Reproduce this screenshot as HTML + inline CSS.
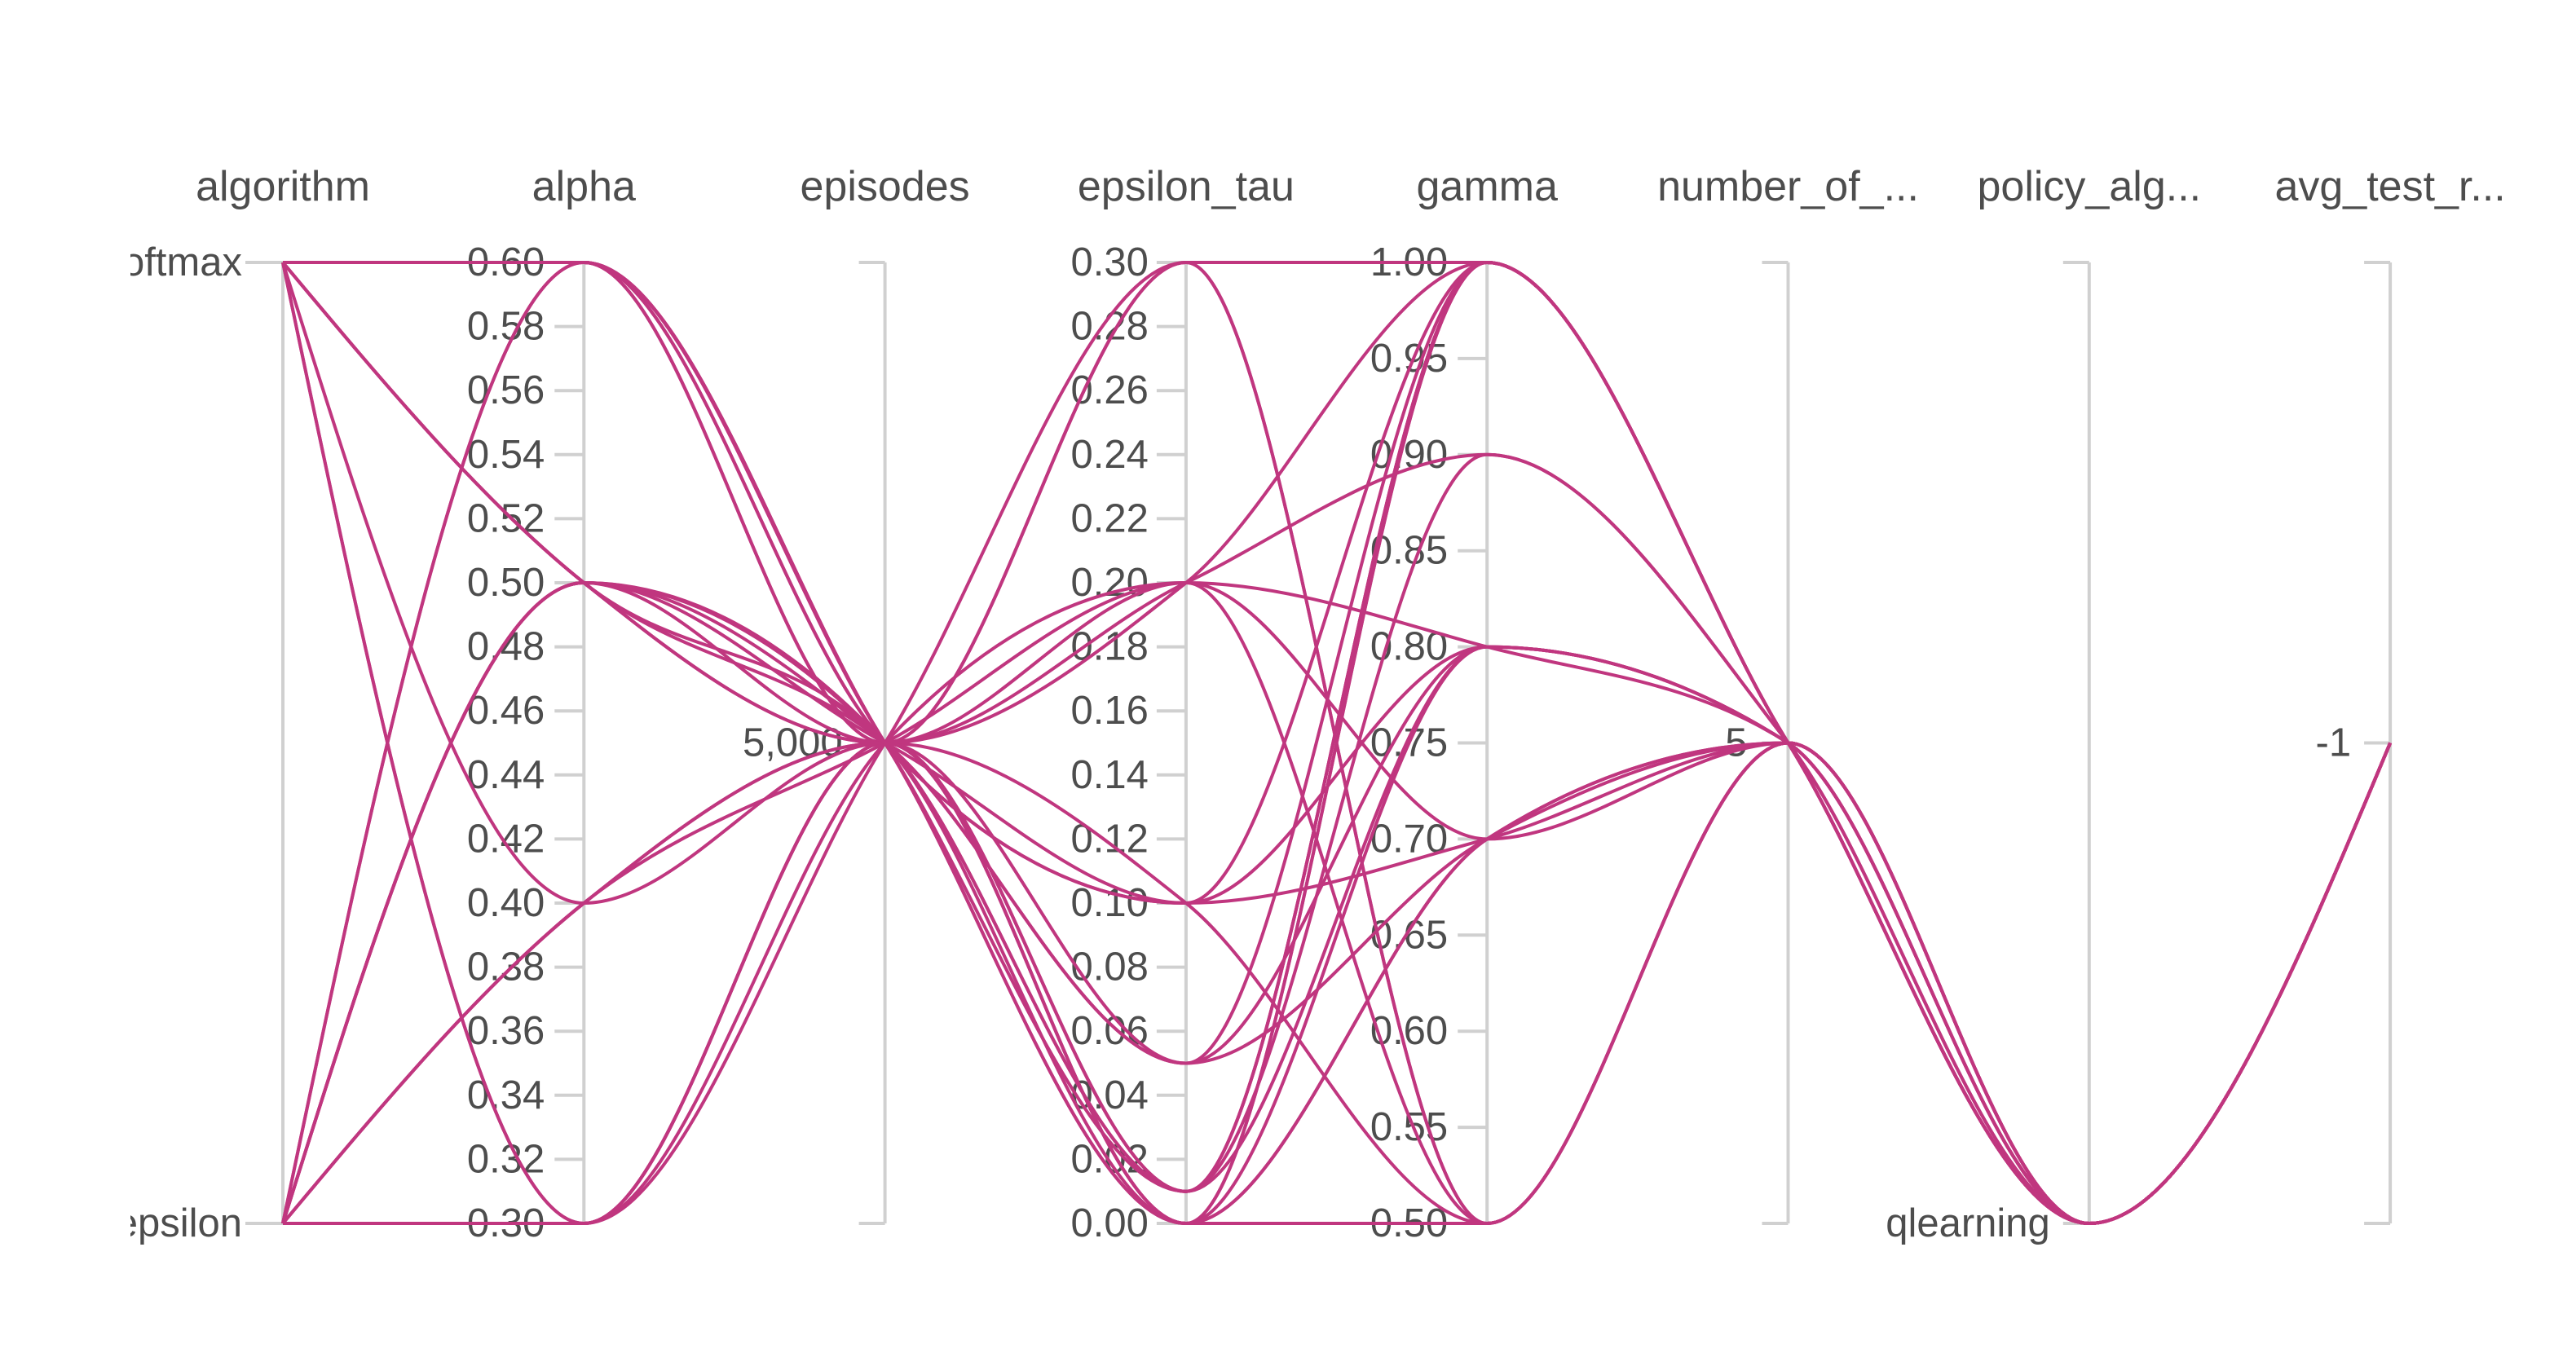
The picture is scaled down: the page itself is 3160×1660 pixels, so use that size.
<!DOCTYPE html>
<html><head><meta charset="utf-8"><style>
html,body{margin:0;padding:0;background:#fff;}
svg{display:block;}
text{font-family:"Liberation Sans",sans-serif;fill:#4d4d4d;}
</style></head><body>
<svg id="chart" width="3160" height="1660" viewBox="0 0 3160 1660" xmlns="http://www.w3.org/2000/svg">
<defs><clipPath id="clip"><rect x="160" y="0" width="3000" height="1660"/></clipPath></defs>
<g id="axes" clip-path="url(#clip)"></g>
<g id="lines"></g>
</svg>
<script>
const dimNames = ["algorithm","alpha","episodes","epsilon_tau","gamma","number_of_...","policy_alg...","avg_test_r..."];
const algorithmCats = ["softmax","epsilon"];
const alphaTicks = [0.30,0.32,0.34,0.36,0.38,0.40,0.42,0.44,0.46,0.48,0.50,0.52,0.54,0.56,0.58,0.60];
const tauTicks = [0,0.02,0.04,0.06,0.08,0.10,0.12,0.14,0.16,0.18,0.20,0.22,0.24,0.26,0.28,0.30];
const gammaTicks = [0.50,0.55,0.60,0.65,0.70,0.75,0.80,0.85,0.90,0.95,1.00];
const runAlgorithm = ["softmax","softmax","softmax","softmax","softmax","softmax","softmax","softmax","softmax","softmax","epsilon","epsilon","epsilon","epsilon","epsilon","epsilon","epsilon","epsilon","epsilon","epsilon","epsilon","epsilon","softmax","epsilon","softmax","epsilon"];
const runAlpha = [0.6,0.6,0.6,0.6,0.5,0.5,0.5,0.4,0.3,0.3,0.3,0.3,0.3,0.3,0.6,0.6,0.5,0.5,0.5,0.5,0.4,0.4,0.5,0.4,0.6,0.5];
const runEpisodes = [5000,5000,5000,5000,5000,5000,5000,5000,5000,5000,5000,5000,5000,5000,5000,5000,5000,5000,5000,5000,5000,5000,5000,5000,5000,5000];
const runTau = [0.3,0.2,0.1,0.0,0.2,0.05,0.01,0.0,0.01,0.1,0.3,0.0,0.05,0.2,0.01,0.0,0.2,0.1,0.05,0.0,0.01,0.2,0.3,0.0,0.1,0.01];
const runGamma = [1.0,0.9,0.8,1.0,0.7,1.0,1.0,0.7,0.9,0.5,0.5,0.5,0.8,0.5,1.0,0.8,1.0,0.7,0.7,1.0,0.8,0.8,0.5,0.7,1.0,1.0];
const runNumber = runAlpha.map(()=>5);
const runPolicy = runAlpha.map(()=>"qlearning");
const runAvg = runAlpha.map(()=>-1);

const NS="http://www.w3.org/2000/svg";
const X0=347, DX=369.3, TOP=322, BOT=1501, MID=(TOP+BOT)/2;
const ax=i=>X0+i*DX;
const lin=(v,a,b)=>BOT-(v-a)/(b-a)*(BOT-TOP);
const yAlg=v=>v==="softmax"?TOP:BOT;
const yAlpha=v=>lin(v,0.3,0.6);
const yTau=v=>lin(v,0,0.3);
const yGamma=v=>lin(v,0.5,1.0);
const yMid=()=>MID;
const yPolicy=()=>BOT;
const axesG=document.getElementById('axes');
const linesG=document.getElementById('lines');
function mk(tag,attrs,parent){const e=document.createElementNS(NS,tag);for(const k in attrs)e.setAttribute(k,attrs[k]);parent.appendChild(e);return e;}

dimNames.forEach((n,i)=>{
  const t=mk('text',{x:ax(i),y:229,'text-anchor':'middle','dominant-baseline':'central','font-size':52},axesG);
  
  
  t.textContent=n;
  const l=mk('line',{x1:ax(i),x2:ax(i),y1:TOP,y2:BOT,stroke:'#d0d0d0','stroke-width':4},axesG);
  
  
});
function tick(i,y,label,len,gap){
  const x=ax(i);
  const l=mk('line',{x1:x-len,x2:x,y1:y,y2:y,stroke:'#d0d0d0','stroke-width':4},axesG);
  
  
  if(label!==null){
    const t=mk('text',{x:x-gap,y:y,'text-anchor':'end','dominant-baseline':'central','font-size':49},axesG);
    
    
    t.textContent=label;
  }
}
algorithmCats.forEach(c=>tick(0,yAlg(c),c,46,50));
alphaTicks.forEach(v=>tick(1,yAlpha(v),v.toFixed(2),36,48));
tick(2,TOP,null,32,0);tick(2,BOT,null,32,0);tick(2,MID,"5,000",32,52);
tauTicks.forEach(v=>tick(3,yTau(v),v.toFixed(2),36,46));
gammaTicks.forEach(v=>tick(4,yGamma(v),v.toFixed(2),36,48));
tick(5,TOP,null,32,0);tick(5,BOT,null,32,0);tick(5,MID,"5",32,50);
tick(6,TOP,null,32,0);tick(6,BOT,"qlearning",32,48);
tick(7,TOP,null,32,0);tick(7,BOT,null,32,0);tick(7,MID,"-1",32,48);

function sign(v){return v<0?-1:1;}
function monotonePath(xs,ys){
  const n=xs.length, t=new Array(n);
  for(let i=1;i<n-1;i++){
    const h0=xs[i]-xs[i-1],h1=xs[i+1]-xs[i];
    const s0=(ys[i]-ys[i-1])/h0,s1=(ys[i+1]-ys[i])/h1;
    const p=(s0*h1+s1*h0)/(h0+h1);
    t[i]=(sign(s0)+sign(s1))*Math.min(Math.abs(s0),Math.abs(s1),0.5*Math.abs(p))||0;
  }
  const hA=xs[1]-xs[0]; t[0]=(3*(ys[1]-ys[0])/hA-t[1])/2;
  const hB=xs[n-1]-xs[n-2]; t[n-1]=(3*(ys[n-1]-ys[n-2])/hB-t[n-2])/2;
  let d='M'+xs[0]+','+ys[0];
  for(let i=0;i<n-1;i++){
    const dx=(xs[i+1]-xs[i])/3;
    d+=' C'+(xs[i]+dx)+','+(ys[i]+dx*t[i])+' '+(xs[i+1]-dx)+','+(ys[i+1]-dx*t[i+1])+' '+xs[i+1]+','+ys[i+1];
  }
  return d;
}
for(let r=0;r<runAlpha.length;r++){
  const ys=[yAlg(runAlgorithm[r]),yAlpha(runAlpha[r]),yMid(runEpisodes[r]),yTau(runTau[r]),yGamma(runGamma[r]),yMid(runNumber[r]),yPolicy(runPolicy[r]),yMid(runAvg[r])];
  const xs=ys.map((_,i)=>ax(i));
  const p=mk('path',{d:monotonePath(xs,ys),fill:'none',stroke:'#c0367f','stroke-width':4},linesG);
  
  
}
</script>
</body></html>
